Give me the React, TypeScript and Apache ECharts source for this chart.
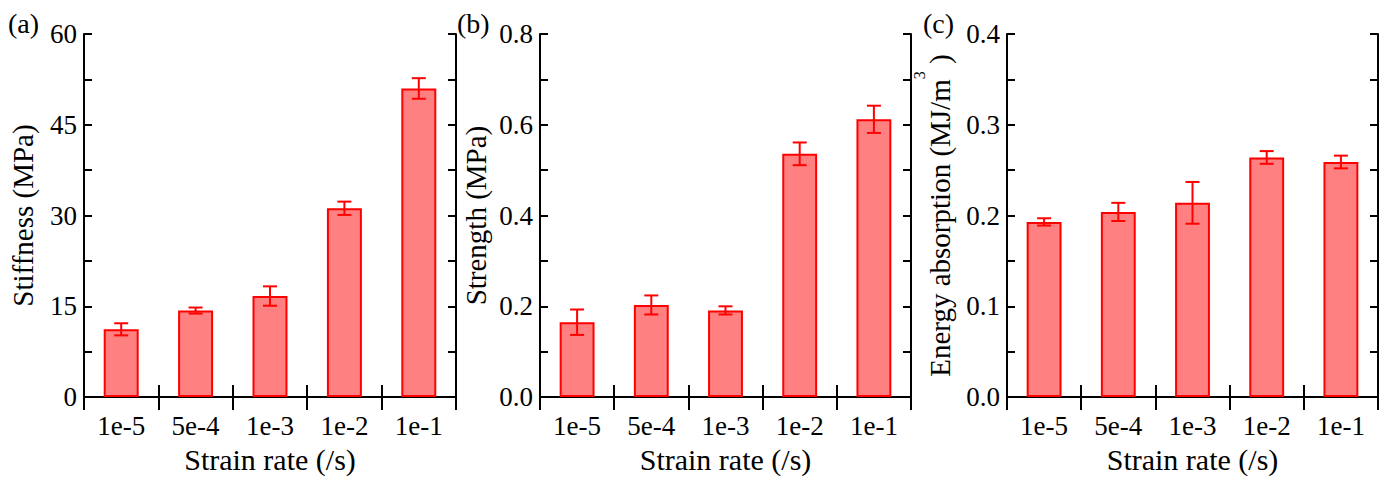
import React, { useEffect, useRef } from 'react';
import * as echarts from 'echarts';

const categories = ['1e-5', '5e-4', '1e-3', '1e-2', '1e-1'];

const stiffness = [11.2, 14.3, 16.7, 31.2, 51.0];
const stiffnessErr = [1.0, 0.5, 1.6, 1.1, 1.7];

const strength = [0.165, 0.203, 0.191, 0.536, 0.612];
const strengthErr = [0.028, 0.021, 0.009, 0.025, 0.03];

const energy = [0.193, 0.204, 0.214, 0.264, 0.259];
const energyErr = [0.004, 0.01, 0.023, 0.007, 0.007];

const yMaxs = [60, 0.8, 0.4];
const yIntervals = [15, 0.2, 0.1];
const yDecimals = [0, 1, 1];
const panelLabels = ['(a)', '(b)', '(c)'];
const xTitle = 'Strain rate (/s)';

const FONT = 'Liberation Serif, Times New Roman, Times, serif';
const FILL = '#ff8080';
const RED = '#ff0000';

export default function App() {
  const ref = useRef<HTMLDivElement>(null);

  useEffect(() => {
    if (!ref.current) return;
    const chart = echarts.init(ref.current, undefined, { renderer: 'svg' });

    const panels = [
      { vals: stiffness, errs: stiffnessErr, left: 84, width: 372, nameGap: 47, lh: 29,
        name: 'Stiffness (MPa)' },
      { vals: strength, errs: strengthErr, left: 540, width: 371, nameGap: 50, lh: 29,
        name: 'Strength (MPa)' },
      { vals: energy, errs: energyErr, left: 1007, width: 371, nameGap: 38, lh: 58,
        name: '{t|Energy absorption (MJ/m}{s|3}{t| )}' },
    ];

    const grids: any[] = [];
    const xAxes: any[] = [];
    const yAxes: any[] = [];
    const series: any[] = [];
    const axisLine = { show: true, lineStyle: { color: '#000', width: 2 } };

    panels.forEach((p, i) => {
      grids.push({ left: p.left, top: 34, width: p.width, height: 371 });
      xAxes.push({
        type: 'category', gridIndex: i, data: categories, position: 'bottom',
        axisLine, axisTick: { show: true, inside: true, length: 12, lineStyle: { color: '#000', width: 2 } },
        axisLabel: { color: '#000', fontFamily: FONT, fontSize: 27, margin: 15 },
        name: xTitle, nameLocation: 'middle', nameGap: 43,
        nameTextStyle: { color: '#000', fontFamily: FONT, fontSize: 30 },
        splitLine: { show: false },
      });
      xAxes.push({
        type: 'category', gridIndex: i, data: categories, position: 'top',
        axisLine, axisTick: { show: true, inside: true, length: 13, lineStyle: { color: '#000', width: 2 } },
        axisLabel: { show: false }, splitLine: { show: false },
      });
      const tickStyle = { show: true, inside: true, length: 8, lineStyle: { color: '#000', width: 2 } };
      const minor = { show: true, splitNumber: 2, length: 8, lineStyle: { color: '#000', width: 2 } };
      yAxes.push({
        type: 'value', gridIndex: i, min: 0, max: yMaxs[i], interval: yIntervals[i], position: 'left',
        axisLine, axisTick: tickStyle, minorTick: minor,
        axisLabel: {
          color: '#000', fontFamily: FONT, fontSize: 27, margin: 7,
          formatter: (v: number) => v.toFixed(yDecimals[i]),
        },
        splitLine: { show: false }, minorSplitLine: { show: false },
        name: p.name, nameLocation: 'middle', nameGap: p.nameGap, nameRotate: 90,
        nameTextStyle: {
          color: '#000', fontFamily: FONT, fontSize: 29,
          rich: {
            t: { fontFamily: FONT, fontSize: 29, lineHeight: p.lh, color: '#000' },
            s: { fontFamily: FONT, fontSize: 16, lineHeight: 16, verticalAlign: 'top', color: '#000' },
          },
        },
      });
      yAxes.push({
        type: 'value', gridIndex: i, min: 0, max: yMaxs[i], interval: yIntervals[i], position: 'right',
        axisLine, axisTick: tickStyle, minorTick: minor,
        axisLabel: { show: false }, splitLine: { show: false }, minorSplitLine: { show: false },
      });

      series.push({
        type: 'bar', xAxisIndex: 2 * i, yAxisIndex: 2 * i, data: p.vals, barWidth: '47%',
        itemStyle: { color: FILL, borderColor: RED, borderWidth: 2 },
      });
      series.push({
        type: 'custom', xAxisIndex: 2 * i, yAxisIndex: 2 * i, z: 5,
        data: p.vals.map((v, k) => [k, v - p.errs[k], v + p.errs[k]]),
        encode: { x: 0, y: [1, 2] },
        renderItem: (params: any, api: any) => {
          const x = api.value(0);
          const lo = api.coord([x, api.value(1)]);
          const hi = api.coord([x, api.value(2)]);
          const hw = 7;
          const style = { stroke: RED, lineWidth: 2 };
          return {
            type: 'group',
            children: [
              { type: 'line', shape: { x1: lo[0], y1: lo[1], x2: hi[0], y2: hi[1] }, style },
              { type: 'line', shape: { x1: lo[0] - hw, y1: lo[1], x2: lo[0] + hw, y2: lo[1] }, style },
              { type: 'line', shape: { x1: hi[0] - hw, y1: hi[1], x2: hi[0] + hw, y2: hi[1] }, style },
            ],
          };
        },
      });
    });

    const labelX = [8, 457, 923];
    const graphic = panelLabels.map((t, i) => ({
      type: 'text', left: labelX[i], top: 9,
      style: { text: t, fontFamily: FONT, fontSize: 28, fill: '#000' },
    }));

    chart.setOption({
      animation: false,
      backgroundColor: '#fff',
      textStyle: { fontFamily: FONT },
      grid: grids,
      xAxis: xAxes,
      yAxis: yAxes,
      series,
      graphic,
    });

    return () => chart.dispose();
  }, []);

  return (
    <div
      ref={ref}
      style={{ position: 'fixed', left: 0, top: 0, width: 1387, height: 479, background: '#fff' }}
    />
  );
}
